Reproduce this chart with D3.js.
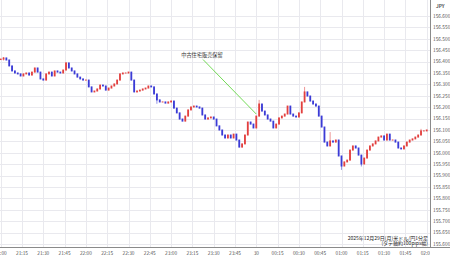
<!DOCTYPE html>
<html>
<head>
<meta charset="utf-8">
<script src="https://cdn.jsdelivr.net/npm/d3@7"></script>
<style>
  body { margin: 0; background: #fff; }
  svg { display: block; font-family: "Noto Sans CJK JP", "DejaVu Sans", sans-serif; }
</style>
</head>
<body>
<div id="chart"></div>
<script>
// 2-minute closes from 21:00 onward (USD/JPY)
var closes = [
  156.411, 156.416, 156.407, 156.381, 156.359, 156.350, 156.346, 156.337, 156.346, 156.350,
  156.341, 156.354, 156.372, 156.354, 156.324, 156.319, 156.346, 156.354, 156.337, 156.359,
  156.354, 156.350, 156.363, 156.394, 156.372, 156.359, 156.346, 156.332, 156.324, 156.319,
  156.319, 156.289, 156.267, 156.271, 156.280, 156.297, 156.293, 156.275, 156.284, 156.293,
  156.302, 156.319, 156.346, 156.350, 156.350, 156.354, 156.319, 156.267, 156.271, 156.275,
  156.280, 156.284, 156.293, 156.289, 156.258, 156.232, 156.223, 156.223, 156.218, 156.223,
  156.227, 156.196, 156.175, 156.148, 156.139, 156.161, 156.188, 156.201, 156.205, 156.201,
  156.196, 156.166, 156.148, 156.153, 156.157, 156.148, 156.118, 156.100, 156.078, 156.065,
  156.078, 156.065, 156.082, 156.056, 156.025, 156.039, 156.078, 156.135, 156.126, 156.109,
  156.161, 156.214, 156.183, 156.166, 156.148, 156.139, 156.109, 156.126, 156.153, 156.161,
  156.170, 156.205, 156.170, 156.161, 156.157, 156.175, 156.223, 156.267, 156.249, 156.227,
  156.214, 156.205, 156.161, 156.113, 156.047, 156.030, 156.052, 156.047, 156.056, 155.986,
  155.942, 155.960, 155.968, 156.012, 156.030, 156.021, 155.990, 155.951, 155.977, 156.012,
  156.030, 156.039, 156.052, 156.069, 156.074, 156.056, 156.082, 156.056, 156.056, 156.047,
  156.021, 156.017, 156.030, 156.047, 156.056, 156.061, 156.069, 156.078, 156.096, 156.096,
  156.100
];
var firstOpen = 156.409;
// a few longer wicks: [index, high, low]
var spikes = [
  [1, 156.420, 156.405], [23, 156.398, 156.380], [55, 156.232, 156.215],
  [91, 156.232, 156.200], [107, 156.289, 156.255], [116, 156.091, 156.030],
  [120, 155.942, 155.925], [127, 155.951, 155.940], [148, 156.105, 156.090]
];
var yTicks = d3.range(0, 21).map(function(i) { return +(155.6 + i * 0.05).toFixed(3); });
var xTickLabels = ["21:00", "21:15", "21:30", "21:45", "22:00", "22:15", "22:30", "22:45",
  "23:00", "23:15", "23:30", "23:45", "30", "00:15", "00:30", "00:45", "01:00", "01:15",
  "01:30", "01:45", "02:00"];
var note = { text: "中古住宅販売保留", index: 90 };
var caption = ["2025年12月29日(月)米ドル/円1分足", "(タテ軸約100pips幅)"];

var W = 450, H = 258;
var plotR = 430, plotB = 247;

var x = d3.scaleLinear().domain([0, 300]).range([0.7, 426.7]); // minutes since 21:00
var y = d3.scaleLinear().domain([155.6, 156.6]).range([244, 16]);

var svg = d3.select("#chart").append("svg").attr("width", W).attr("height", H);

svg.append("defs").append("clipPath").attr("id", "plot")
  .append("rect").attr("x", 0).attr("y", 0).attr("width", plotR).attr("height", H);

// grid
var grid = svg.append("g").attr("stroke", "#e9e9ee").attr("stroke-width", 1);
grid.selectAll(".h").data(yTicks).enter().append("line")
  .attr("x1", 0).attr("x2", plotR)
  .attr("y1", function(d) { return Math.round(y(d)) + 0.5; })
  .attr("y2", function(d) { return Math.round(y(d)) + 0.5; });
grid.selectAll(".v").data(xTickLabels).enter().append("line")
  .attr("x1", function(d, i) { return Math.round(x(i * 15)) + 0.5; })
  .attr("x2", function(d, i) { return Math.round(x(i * 15)) + 0.5; })
  .attr("y1", 0).attr("y2", plotB);

// candles
var candles = closes.map(function(c, i) {
  var o = i === 0 ? firstOpen : closes[i - 1];
  return { i: i, o: o, c: c, h: Math.max(o, c), l: Math.min(o, c) };
});
spikes.forEach(function(s) {
  var d = candles[s[0]];
  d.h = Math.max(d.h, s[1]); d.l = Math.min(d.l, s[2]);
});
var up = "#e2403f", down = "#3b3bd6";
var cg = svg.append("g").attr("clip-path", "url(#plot)");
cg.selectAll(".wick").data(candles).enter().append("line")
  .attr("x1", function(d) { return x(d.i * 2); })
  .attr("x2", function(d) { return x(d.i * 2); })
  .attr("y1", function(d) { return y(d.h); })
  .attr("y2", function(d) { return y(d.l); })
  .attr("stroke", function(d) { return d.c >= d.o ? up : down; })
  .attr("stroke-opacity", 0.55)
  .attr("stroke-width", 1);
cg.selectAll(".body").data(candles).enter().append("rect")
  .attr("x", function(d) { return x(d.i * 2) - 0.9; })
  .attr("width", 1.8)
  .attr("y", function(d) { return y(Math.max(d.o, d.c)) - 0.5; })
  .attr("height", function(d) { return Math.abs(y(d.o) - y(d.c)) + 1; })
  .attr("fill", function(d) { return d.c >= d.o ? up : down; });

// annotation
svg.append("line")
  .attr("x1", 203).attr("y1", 59.5)
  .attr("x2", x(note.index * 2)).attr("y2", y(closes[note.index]) - 2)
  .attr("stroke", "#4fd12c").attr("stroke-width", 0.8);
svg.append("text").attr("x", 202).attr("y", 56.5).attr("text-anchor", "middle")
  .attr("font-size", 5.2).attr("fill", "#333").text(note.text);

// right axis
svg.append("line").attr("x1", plotR + 0.5).attr("x2", plotR + 0.5)
  .attr("y1", 0).attr("y2", plotB).attr("stroke", "#8a8a8a");
svg.append("g").selectAll("text").data(yTicks).enter().append("text")
  .attr("x", 433).attr("y", function(d) { return y(d) + 1.8; })
  .attr("font-size", 4.8).attr("fill", "#555")
  .text(function(d) { return d.toFixed(3); });
svg.append("text").attr("x", 436).attr("y", 7.5).attr("font-size", 4.8)
  .attr("font-weight", "bold").attr("fill", "#555").text("JPY");

// bottom axis
svg.append("line").attr("x1", 0).attr("x2", W).attr("y1", plotB + 0.5).attr("y2", plotB + 0.5)
  .attr("stroke", "#8a8a8a");
svg.append("g").attr("clip-path", "url(#plot)").selectAll("text").data(xTickLabels).enter().append("text")
  .attr("x", function(d, i) { return x(i * 15); }).attr("y", 254.5)
  .attr("text-anchor", "middle").attr("font-size", 4.8).attr("fill", "#555")
  .text(function(d) { return d; });

// caption
svg.append("g").selectAll("text").data(caption).enter().append("text")
  .attr("x", 428).attr("y", function(d, i) { return 239.5 + i * 5.5; })
  .attr("text-anchor", "end").attr("font-size", 5).attr("fill", "#222")
  .text(function(d) { return d; });
</script>
</body>
</html>
